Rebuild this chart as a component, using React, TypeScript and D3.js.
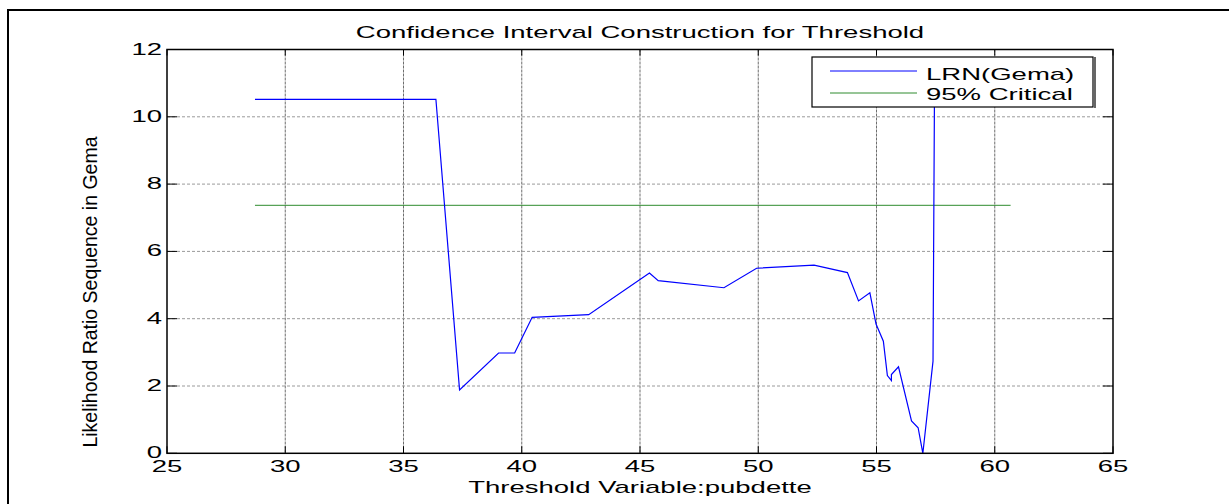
import * as d3 from 'd3';

// threshold values and LR statistic
const lrnX = [28.72, 36.37, 37.37, 39.02, 39.70, 40.44, 42.83, 45.40, 45.77, 48.55, 49.93, 52.36, 53.77, 54.24, 54.72, 54.98, 55.29, 55.46, 55.63, 55.63, 55.93, 56.48, 56.76, 56.96, 57.39, 57.45];
const lrnY = [10.52, 10.52, 1.88, 2.98, 2.98, 4.04, 4.12, 5.36, 5.13, 4.92, 5.50, 5.59, 5.37, 4.53, 4.77, 3.84, 3.33, 2.31, 2.16, 2.34, 2.57, 0.96, 0.76, 0.0, 2.74, 10.52];
const criticalX = [28.72, 60.67];
const criticalValue = 7.37;

const xTicks = [25, 30, 35, 40, 45, 50, 55, 60, 65];
const yTicks = [0, 2, 4, 6, 8, 10, 12];

const title = 'Confidence Interval Construction for Threshold';
const xLabel = 'Threshold Variable:pubdette';
const yLabel = 'Likelihood Ratio Sequence in Gema';
const legendNames = ['LRN(Gema)', '95% Critical'];

const W = 1229;
const H = 504;
const margin = { left: 167, top: 49.5, right: 116, bottom: 50.7 };
const SX = 1.72; // the picture's text is stretched sideways
const FONT = '"Liberation Sans", Arial, sans-serif';
const BLUE = '#0000ff';
const GREEN = '#2e8b2e';

export default function App() {
    const drawWidth = W - margin.left - margin.right;
    const drawHeight = H - margin.top - margin.bottom;

    const xScale = d3.scaleLinear().domain([25, 65]).range([0, drawWidth]);
    const yScale = d3.scaleLinear().domain([0, 12]).range([drawHeight, 0]);

    const line = d3.line<[number, number]>()
        .x((d) => xScale(d[0]))
        .y((d) => yScale(d[1]));

    const lrnPath = line(lrnX.map((x, i) => [x, lrnY[i]]));
    const critPath = line(criticalX.map((x) => [x, criticalValue]));

    const txt = (x: number, y: number, s: string, anchor: string, key?: any) => (
        <text key={key} transform={`translate(${x},${y}) scale(${SX},1)`} textAnchor={anchor}
            fontFamily={FONT} fontSize={16} fill="#000">{s}</text>
    );

    return (
        <svg width={W} height={H} style={{ position: 'absolute', left: 0, top: 0, display: 'block', background: '#fff' }}>
            {/* outer frame */}
            <rect x={8} y={10} width={W + 20} height={H + 20} fill="#fff" stroke="#000" strokeWidth={2} />

            {txt(margin.left + drawWidth / 2, 38, title, 'middle')}

            <g transform={`translate(${margin.left},${margin.top})`}>
                {/* grid */}
                {xTicks.slice(1, -1).map((t) => (
                    <line key={'gx' + t} x1={xScale(t)} x2={xScale(t)} y1={0} y2={drawHeight}
                        stroke="#6e6e6e" strokeWidth={1} strokeDasharray="3,1" />
                ))}
                {yTicks.slice(1, -1).map((t) => (
                    <line key={'gy' + t} x1={0} x2={drawWidth} y1={yScale(t)} y2={yScale(t)}
                        stroke="#9a9a9a" strokeWidth={1} strokeDasharray="3,2" />
                ))}

                {/* series */}
                <path d={critPath || ''} fill="none" stroke={GREEN} strokeWidth={1} />
                <path d={lrnPath || ''} fill="none" stroke={BLUE} strokeWidth={1.2} />

                {/* ticks on all four sides */}
                {xTicks.map((t) => (
                    <g key={'tx' + t}>
                        <line x1={xScale(t)} x2={xScale(t)} y1={drawHeight} y2={drawHeight - 7} stroke="#000" />
                        <line x1={xScale(t)} x2={xScale(t)} y1={0} y2={6} stroke="#000" />
                    </g>
                ))}
                {yTicks.map((t) => (
                    <g key={'ty' + t}>
                        <line x1={0} x2={10} y1={yScale(t)} y2={yScale(t)} stroke="#000" />
                        <line x1={drawWidth} x2={drawWidth - 10} y1={yScale(t)} y2={yScale(t)} stroke="#000" />
                    </g>
                ))}

                {/* axes box */}
                <rect x={0} y={0} width={drawWidth} height={drawHeight} fill="none" stroke="#000" strokeWidth={1.5} />

                {xTicks.map((t) => txt(xScale(t), drawHeight + 19, String(t), 'middle', 'lx' + t))}
                {yTicks.map((t) => txt(-5, yScale(t) + 5, String(t), 'end', 'ly' + t))}
            </g>

            {txt(margin.left + drawWidth / 2, 493, xLabel, 'middle')}

            <text transform={`translate(97,292) rotate(-90)`} textAnchor="middle"
                fontFamily={FONT} fontSize={19.5} fill="#000">{yLabel}</text>

            {/* legend */}
            <g>
                <rect x={812} y={57} width={281} height={50} fill="#fff" stroke="#000" strokeWidth={1.2} />
                <line x1={1095} x2={1095} y1={57} y2={108} stroke="#000" strokeWidth={1.2} />
                <line x1={830} x2={917} y1={71} y2={71} stroke={BLUE} strokeWidth={1} />
                <line x1={830} x2={917} y1={93} y2={93} stroke={GREEN} strokeWidth={1} />
                {txt(926, 79.5, legendNames[0], 'start')}
                {txt(926, 100, legendNames[1], 'start')}
            </g>
        </svg>
    );
}
